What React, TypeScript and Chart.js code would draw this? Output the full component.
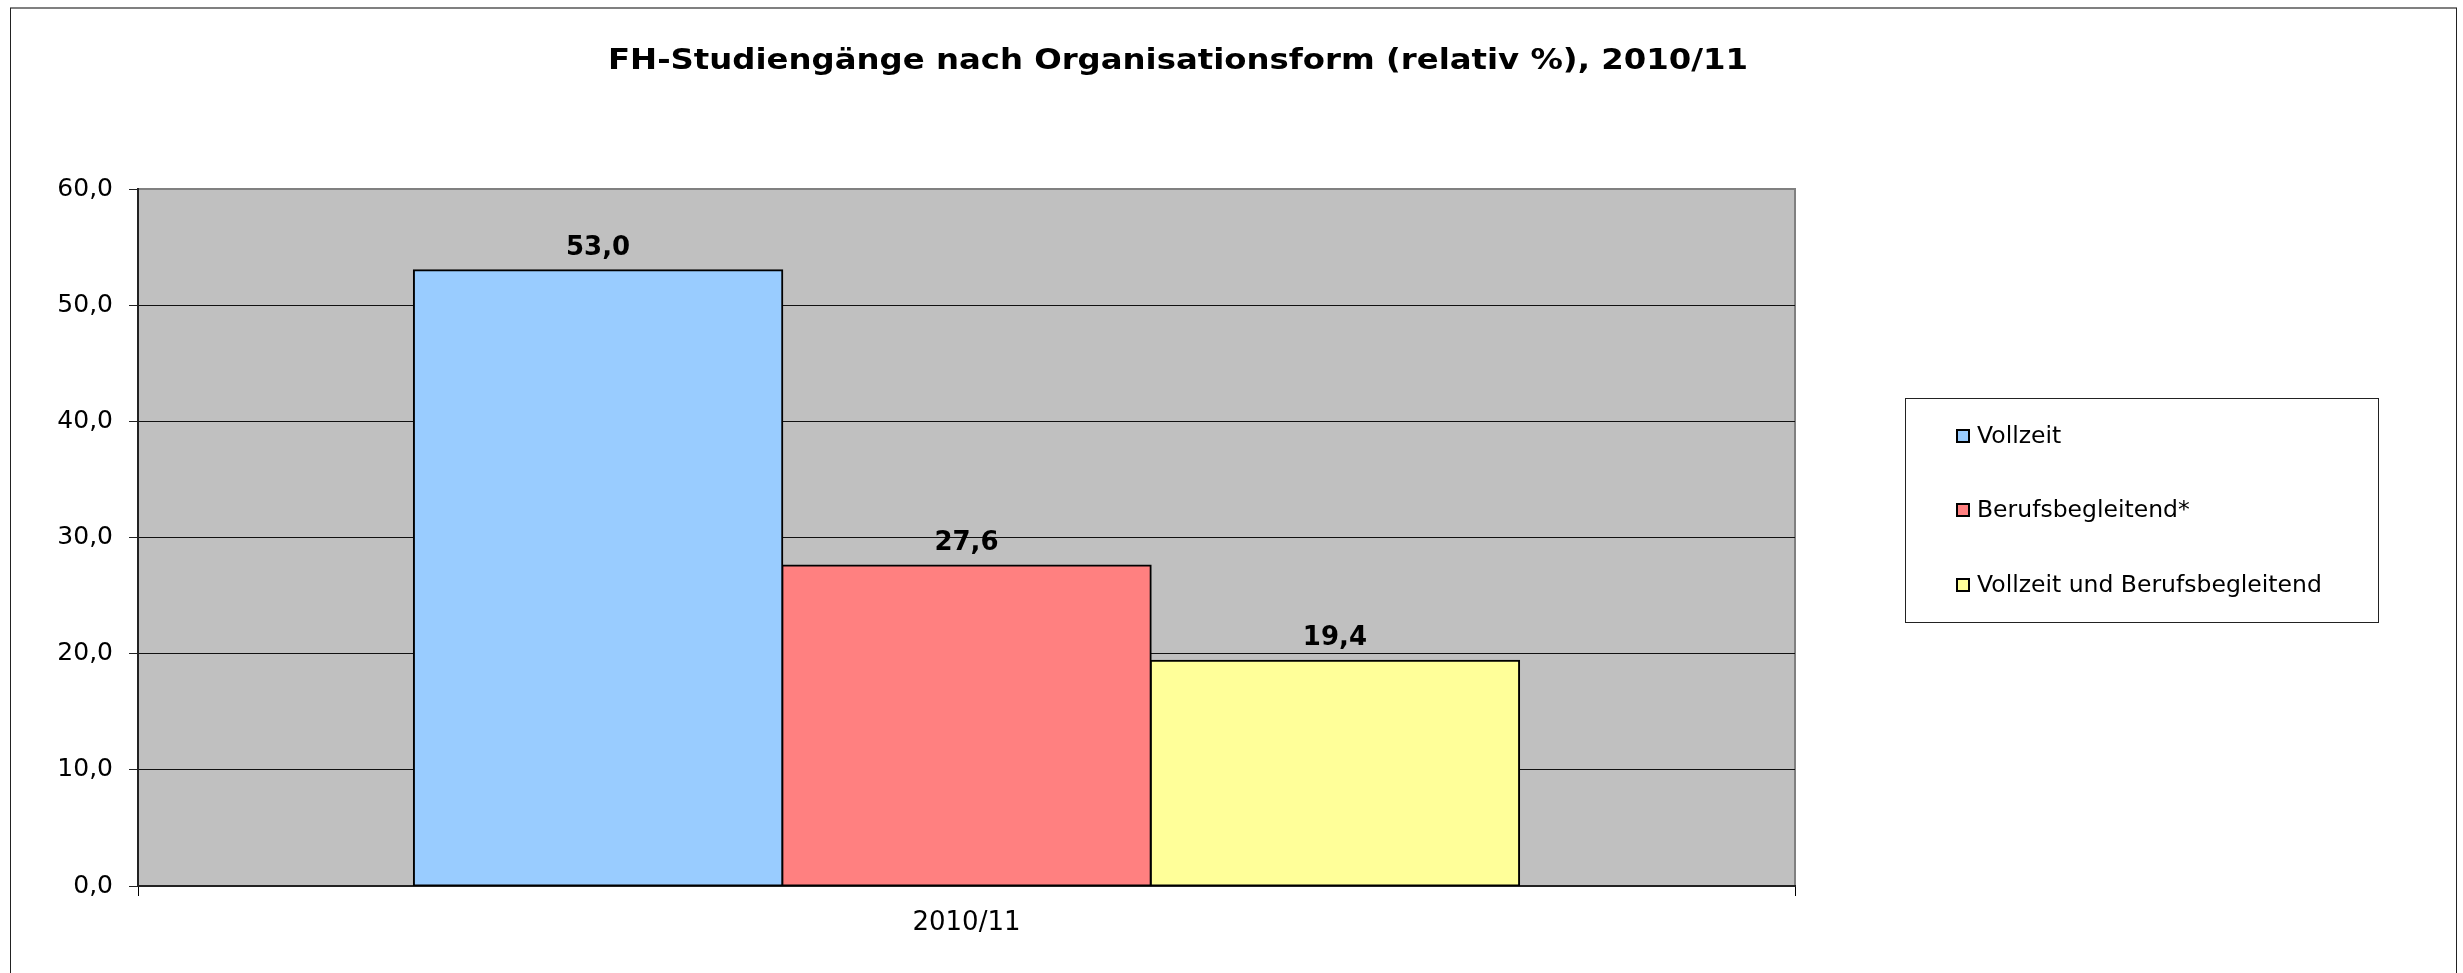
import React, { useEffect, useRef } from 'react';
import { Chart, registerables } from 'chart.js';

Chart.register(...registerables);

const categories = ['2010/11'];
const seriesLabels = ['Vollzeit', 'Berufsbegleitend*', 'Vollzeit und Berufsbegleitend'];
const vollzeit = [53.0];
const berufsbegleitend = [27.6];
const vollzeitUndBerufsbegleitend = [19.4];
const seriesColors = ['#99CCFF', '#FF8080', '#FFFF99'];
const yMin = 0;
const yMax = 60;
const yStep = 10;
const titleText = 'FH-Studiengänge nach Organisationsform (relativ %), 2010/11';

const FONT = '"DejaVu Sans", Verdana, sans-serif';
const W = 2463;
const H = 973;

const fmt = (v: number) => v.toFixed(1).replace('.', ',');

const decorPlugin = {
  id: 'decor',
  beforeDraw(chart: any) {
    const { ctx, chartArea } = chart;
    ctx.save();
    ctx.fillStyle = '#FFFFFF';
    ctx.fillRect(0, 0, chart.width, chart.height);
    // outer frame
    ctx.strokeStyle = '#808080';
    ctx.lineWidth = 2;
    ctx.beginPath();
    ctx.moveTo(10, 8);
    ctx.lineTo(2457, 8);
    ctx.stroke();
    ctx.strokeStyle = '#222222';
    ctx.lineWidth = 1;
    ctx.beginPath();
    ctx.moveTo(10.5, 8);
    ctx.lineTo(10.5, H + 10);
    ctx.moveTo(2456.5, 8);
    ctx.lineTo(2456.5, H + 10);
    ctx.stroke();
    // plot background
    ctx.fillStyle = '#C0C0C0';
    ctx.fillRect(chartArea.left, chartArea.top, chartArea.right - chartArea.left, chartArea.bottom - chartArea.top);
    ctx.strokeStyle = '#808080';
    ctx.lineWidth = 2;
    ctx.beginPath();
    ctx.moveTo(chartArea.left, chartArea.top);
    ctx.lineTo(chartArea.right, chartArea.top);
    ctx.lineTo(chartArea.right, chartArea.bottom);
    ctx.stroke();
    // title (stretched horizontally to the reference's wider bold face)
    ctx.fillStyle = '#000000';
    ctx.font = 'bold 28px ' + FONT;
    ctx.textAlign = 'center';
    ctx.textBaseline = 'middle';
    const tw = ctx.measureText(titleText).width;
    const sx = 1140 / tw;
    ctx.translate(1178, 62);
    ctx.scale(sx, 1);
    ctx.fillText(titleText, 0, 0);
    ctx.restore();
  },
  afterDraw(chart: any) {
    const { ctx } = chart;
    ctx.save();
    // value labels
    ctx.font = 'bold 26px ' + FONT;
    ctx.fillStyle = '#000000';
    ctx.textAlign = 'center';
    ctx.textBaseline = 'middle';
    chart.data.datasets.forEach((ds: any, i: number) => {
      const meta = chart.getDatasetMeta(i);
      meta.data.forEach((bar: any, j: number) => {
        ctx.fillText(fmt(ds.data[j]), bar.x, bar.y - 22);
      });
    });
    // legend
    const lx = 1905, ly = 398, lw = 473, lh = 224;
    ctx.fillStyle = '#FFFFFF';
    ctx.fillRect(lx, ly, lw, lh);
    ctx.strokeStyle = '#222222';
    ctx.lineWidth = 1;
    ctx.strokeRect(lx + 0.5, ly + 0.5, lw, lh);
    const rows = [436, 510, 585];
    ctx.font = '23.5px ' + FONT;
    ctx.textAlign = 'left';
    ctx.textBaseline = 'middle';
    chart.data.datasets.forEach((ds: any, i: number) => {
      const cy = rows[i];
      ctx.fillStyle = ds.backgroundColor;
      ctx.fillRect(1957, cy - 6, 12, 12);
      ctx.strokeStyle = '#000000';
      ctx.lineWidth = 2;
      ctx.strokeRect(1957, cy - 6, 12, 12);
      ctx.fillStyle = '#000000';
      ctx.fillText(ds.label, 1977, cy + 1);
    });
    ctx.restore();
  },
};

export default function App() {
  const ref = useRef<HTMLCanvasElement | null>(null);
  useEffect(() => {
    if (!ref.current) return;
    const datasets = [vollzeit, berufsbegleitend, vollzeitUndBerufsbegleitend].map((d, i) => ({
      label: seriesLabels[i],
      data: d,
      backgroundColor: seriesColors[i],
      borderColor: '#000000',
      borderWidth: 2,
      borderSkipped: false as const,
      inflateAmount: 1,
      categoryPercentage: 0.667,
      barPercentage: 1,
    }));
    const chart = new Chart(ref.current, {
      type: 'bar',
      data: { labels: categories, datasets },
      options: {
        responsive: false,
        animation: false,
        layout: { padding: { top: 189, right: 668, left: 0, bottom: 0 } },
        plugins: {
          legend: { display: false },
          title: { display: false },
          tooltip: { enabled: false },
        },
        scales: {
          x: {
            offset: true,
            grid: { display: true, drawOnChartArea: false, drawTicks: true, tickLength: 10, color: '#000000', offset: true },
            border: { display: true, color: '#222222', width: 2 },
            ticks: { color: '#000000', font: { family: FONT, size: 26 }, padding: 12 },
            afterFit: (s: any) => { s.height = 87; },
          },
          y: {
            min: yMin,
            max: yMax,
            grid: {
              color: (c: any) => (c.tick && c.tick.value === yMax ? '#808080' : '#111111'),
              tickColor: '#222222',
              lineWidth: 1,
              tickLength: 9,
            },
            border: { display: true, color: '#222222', width: 2 },
            ticks: {
              stepSize: yStep,
              color: '#000000',
              font: { family: FONT, size: 25 },
              padding: 16,
              callback: (v: any) => fmt(Number(v)),
            },
            afterFit: (s: any) => { s.width = 138; },
          },
        },
      },
      plugins: [decorPlugin],
    });
    return () => chart.destroy();
  }, []);
  return (
    <div style={{ position: 'fixed', left: 0, top: 0, width: W, height: H, background: '#fff' }}>
      <canvas ref={ref} width={W} height={H} style={{ display: 'block' }} />
    </div>
  );
}
